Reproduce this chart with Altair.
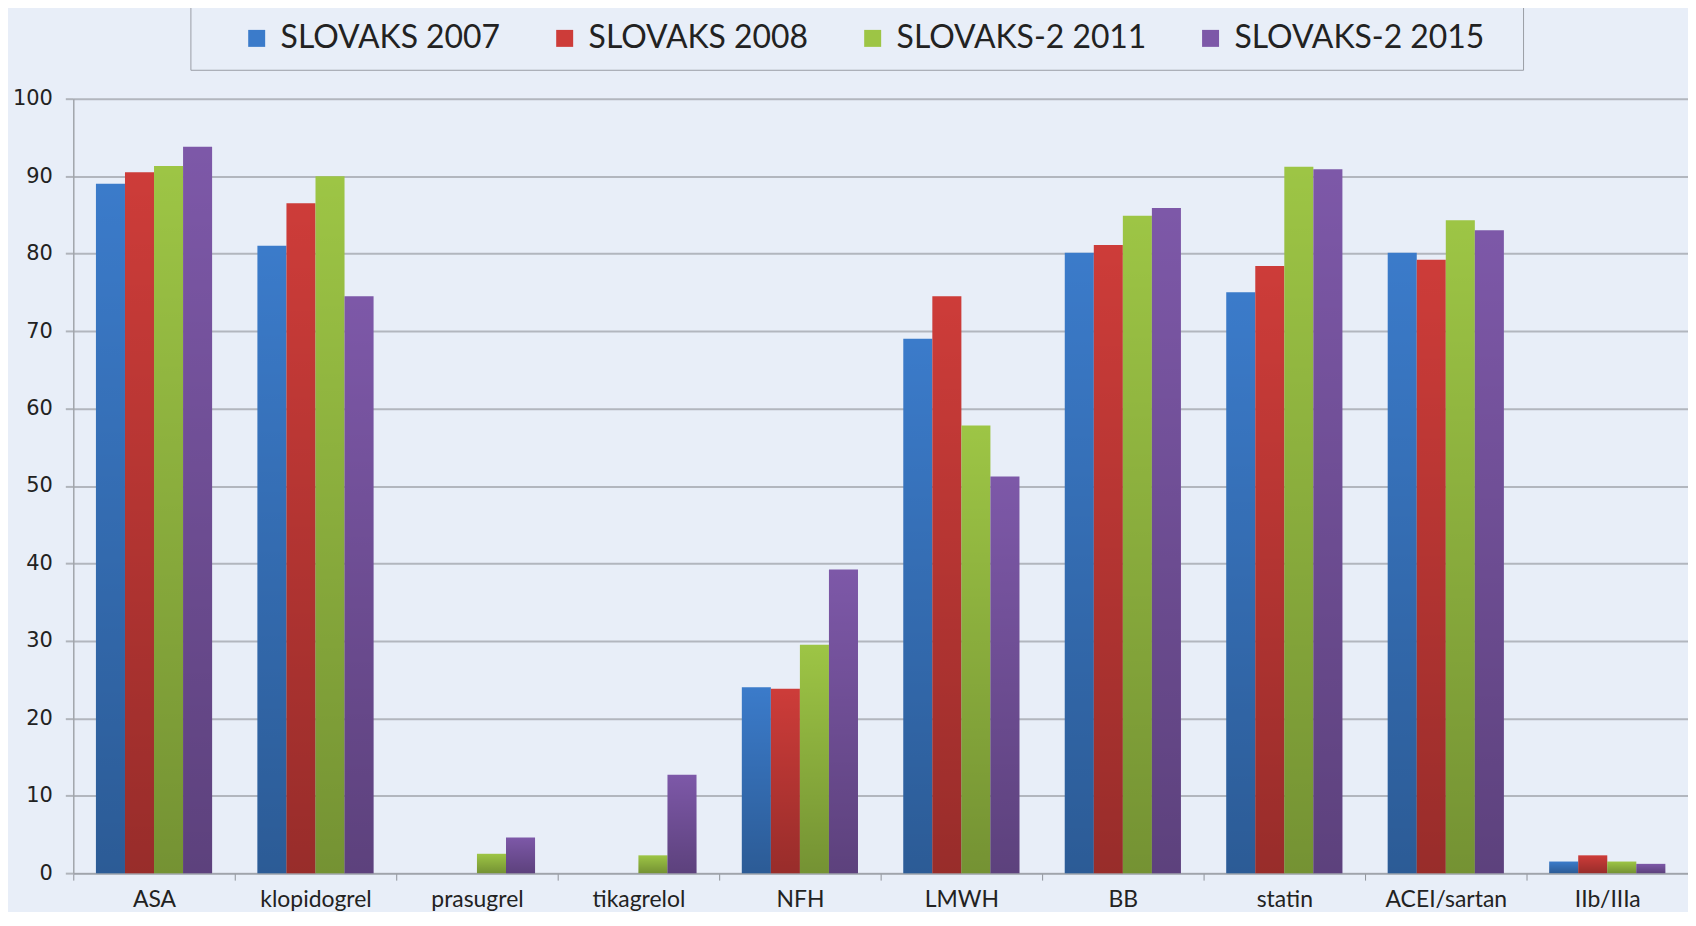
import altair as alt
import pandas as pd

categories = ["ASA", "klopidogrel", "prasugrel", "tikagrelol", "NFH", "LMWH",
              "BB", "statin", "ACEI/sartan", "IIb/IIIa"]
series = ["SLOVAKS 2007", "SLOVAKS 2008", "SLOVAKS-2 2011", "SLOVAKS-2 2015"]
v2007 = [89.0, 81.0, 0.0, 0.0, 24.0, 69.0, 80.1, 75.0, 80.1, 1.5]
v2008 = [90.5, 86.5, 0.0, 0.0, 23.8, 74.5, 81.1, 78.4, 79.2, 2.3]
v2011 = [91.3, 90.0, 2.5, 2.3, 29.5, 57.8, 84.9, 91.2, 84.3, 1.5]
v2015 = [93.8, 74.5, 4.6, 12.7, 39.2, 51.2, 85.9, 90.9, 83.0, 1.2]
colors = ["#3b7bca", "#cd3c39", "#9dc545", "#7d58a8"]
y_ticks = [0, 10, 20, 30, 40, 50, 60, 70, 80, 90, 100]

rows = []
for s, vals in zip(series, [v2007, v2008, v2011, v2015]):
    for c, v in zip(categories, vals):
        rows.append({"category": c, "series": s, "value": v})
df = pd.DataFrame(rows)

bg = "#e8eef8"

x_enc = alt.X("category:N", sort=categories,
              scale=alt.Scale(paddingInner=0, paddingOuter=0),
              axis=alt.Axis(title=None, labelAngle=0, labelFont="Lato",
                            labelFontSize=23, labelColor="#222222",
                            labelPadding=8, tickBand="extent", tickSize=7,
                            tickColor="#8f939a", domainColor="#a0a4ab",
                            domainWidth=1.5, grid=False))
xoff = alt.XOffset("series:N", sort=series,
                   scale=alt.Scale(paddingInner=0, paddingOuter=0.78))
y_enc = alt.Y("value:Q", scale=alt.Scale(domain=[0, 100], nice=False),
              axis=alt.Axis(title=None, values=y_ticks, labelFont="DejaVu Sans",
                            labelFontSize=21, labelColor="#222222", labelPadding=13,
                            tickSize=8, tickColor="#b0b4bb", tickWidth=2,
                            gridColor="#b2b6be", gridWidth=2,
                            domainColor="#a0a4ab", domainWidth=1.5))

last_label = series[-1]
bars = alt.Chart(df).mark_bar(stroke=None).encode(
    x=x_enc,
    xOffset=xoff,
    y=y_enc,
    color=alt.Color("series:N", sort=series,
                    scale=alt.Scale(domain=series, range=colors),
                    legend=alt.Legend(title="\u00a0", titleOrient="left",
                                      titleFontSize=1, titlePadding=35,
                                      orient="none", direction="horizontal",
                                      legendX=117.5, legendY=-92,
                                      padding=15.5, columnPadding=48,
                                      symbolType="square", symbolSize=290,
                                      symbolStrokeWidth=0, labelFont="Lato",
                                      labelFontSize=32, labelColor="#222222",
                                      labelOffset=8, labelLimit=0,
                                      labelExpr=f"datum.label == '{last_label}' ? datum.label + '\u2800' : datum.label",
                                      strokeColor="#9a9ea6",
                                      fillColor=bg)),
)

shade = alt.Chart(df).mark_bar(stroke=None).encode(
    x=alt.X("category:N", sort=categories),
    xOffset=alt.XOffset("series:N", sort=series),
    y=alt.Y("value:Q"),
    fill=alt.value(alt.LinearGradient(
        gradient="linear", x1=0, x2=0, y1=0, y2=1,
        stops=[alt.GradientStop(color="rgba(0,0,0,0)", offset=0),
               alt.GradientStop(color="rgba(0,0,0,0.26)", offset=1)])),
)

chart = alt.layer(bars, shade).properties(
    width=1620, height=777,
    autosize="none",
    padding={"left": 65.5, "top": 89.5, "right": 0, "bottom": 37.5},
    background=bg,
).configure_view(stroke=None).configure_axis(gridOpacity=1)

chart.save("out.html", embed_options={"renderer": "svg", "actions": False})
